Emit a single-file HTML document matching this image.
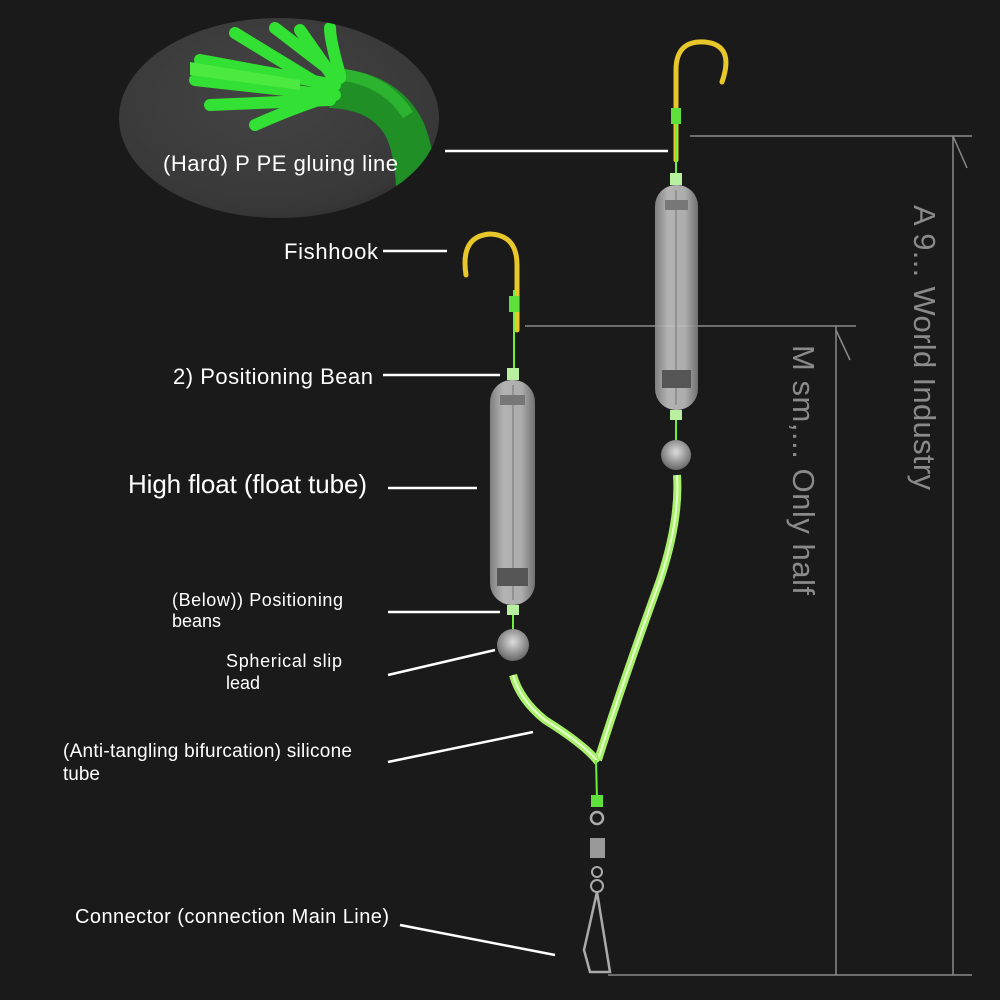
<!DOCTYPE html>
<html><head><meta charset="utf-8"><style>
html,body{margin:0;padding:0;background:#1b1a1b;}
svg{display:block;}
text{font-family:"Liberation Sans",sans-serif;}
</style></head><body>
<svg width="1000" height="1000" viewBox="0 0 1000 1000" xmlns="http://www.w3.org/2000/svg">
<defs>
<radialGradient id="eg" cx="0.45" cy="0.4" r="0.7">
<stop offset="0" stop-color="#444"/><stop offset="0.8" stop-color="#383838"/><stop offset="1" stop-color="#2a2a2a"/>
</radialGradient>
<linearGradient id="tg" x1="0" x2="1">
<stop offset="0" stop-color="#8a8a8a"/><stop offset="0.3" stop-color="#c4c4c4"/><stop offset="0.7" stop-color="#bdbdbd"/><stop offset="1" stop-color="#7a7a7a"/>
</linearGradient>
<radialGradient id="bg" cx="0.5" cy="0.4" r="0.6">
<stop offset="0" stop-color="#ddd"/><stop offset="1" stop-color="#666"/>
</radialGradient>
<clipPath id="ec"><ellipse cx="279" cy="118" rx="160" ry="100"/></clipPath>
</defs>
<rect width="1000" height="1000" fill="#1b1a1b"/>
<ellipse cx="279" cy="118" rx="160" ry="100" fill="url(#eg)"/>
<g clip-path="url(#ec)">
<path d="M330 88 Q385 90 405 130 Q420 165 415 230" stroke="#1f8f26" stroke-width="40" fill="none"/>
<path d="M335 74 Q385 78 408 115" stroke="#2cb330" stroke-width="12" fill="none"/>
<g stroke="#33e034" stroke-width="12" stroke-linecap="round" fill="none">
<path d="M335 85 L200 60"/><path d="M330 95 L195 80"/><path d="M330 100 L210 105"/>
<path d="M335 80 L300 30"/><path d="M340 78 L275 28"/><path d="M325 88 L235 33"/>
<path d="M340 75 Q330 40 330 28"/><path d="M335 95 Q300 105 255 125"/>
</g>
<path d="M190 62 L300 80 L300 90 L190 75 Z" fill="#4cea40"/>
</g>
<text x="163" y="171" font-size="22" fill="#fff" textLength="235">(Hard) P PE gluing line</text>
<line x1="445" y1="151" x2="668" y2="151" stroke="#fff" stroke-width="2.5"/>
<g stroke="#8a8a8a" stroke-width="1.5" fill="none">
<line x1="690" y1="136" x2="972" y2="136"/><line x1="953" y1="136" x2="953" y2="975"/>
<line x1="953" y1="136" x2="967" y2="168"/>
<line x1="525" y1="326" x2="856" y2="326"/><line x1="836" y1="326" x2="836" y2="975"/>
<line x1="836" y1="330" x2="850" y2="360"/>
<line x1="608" y1="975" x2="972" y2="975"/>
</g>
<text transform="translate(914,205) rotate(90)" font-size="31" fill="#8a8a8a" textLength="285">A 9... World Industry</text>
<text transform="translate(793,345) rotate(90)" font-size="31" fill="#8a8a8a" textLength="250">M sm,... Only half</text>
<path d="M676 160 L676 70 Q676 40 705 42 Q735 45 722 82" stroke="#e8c72a" stroke-width="5" fill="none" stroke-linecap="round"/>
<line x1="676" y1="110" x2="676" y2="185" stroke="#6cf03a" stroke-width="2"/>
<rect x="671" y="108" width="10" height="16" fill="#5fe03a"/>
<rect x="670" y="173" width="12" height="12" fill="#b8f0a0"/>
<rect x="655" y="185" width="43" height="225" rx="21" fill="url(#tg)" opacity="0.9"/>
<line x1="676" y1="190" x2="676" y2="405" stroke="#888" stroke-width="1.5"/>
<rect x="662" y="370" width="29" height="18" fill="#555"/><rect x="665" y="200" width="23" height="10" fill="#777"/>
<rect x="670" y="410" width="12" height="10" fill="#b8f0a0"/>
<line x1="676" y1="420" x2="676" y2="440" stroke="#6cf03a" stroke-width="2"/>
<circle cx="676" cy="455" r="15" fill="url(#bg)"/>
<path d="M677 475 Q680 520 660 580 Q620 690 598 760" stroke="#a8f06a" stroke-width="8" fill="none"/>
<path d="M677 475 Q680 520 660 580 Q620 690 598 760" stroke="#e6ffd0" stroke-width="2" fill="none"/>
<path d="M517 330 L517 265 Q517 235 490 234 Q460 236 466 275" stroke="#e8c72a" stroke-width="5" fill="none" stroke-linecap="round"/>
<line x1="514" y1="290" x2="514" y2="380" stroke="#6cf03a" stroke-width="2"/>
<rect x="509" y="296" width="10" height="16" fill="#5fe03a"/>
<rect x="507" y="368" width="12" height="12" fill="#b8f0a0"/>
<rect x="490" y="380" width="45" height="225" rx="22" fill="url(#tg)" opacity="0.9"/>
<line x1="513" y1="385" x2="513" y2="600" stroke="#888" stroke-width="1.5"/>
<rect x="497" y="568" width="31" height="18" fill="#555"/><rect x="500" y="395" width="25" height="10" fill="#777"/>
<rect x="507" y="605" width="12" height="10" fill="#b8f0a0"/>
<line x1="513" y1="615" x2="513" y2="630" stroke="#6cf03a" stroke-width="2"/>
<circle cx="513" cy="645" r="16" fill="url(#bg)"/>
<path d="M513 675 Q520 700 545 720 Q585 745 598 762" stroke="#a8f06a" stroke-width="8" fill="none"/>
<path d="M513 675 Q520 700 545 720 Q585 745 598 762" stroke="#e6ffd0" stroke-width="2" fill="none"/>
<path d="M596 760 L597 800" stroke="#6cf03a" stroke-width="2"/>
<rect x="591" y="795" width="12" height="12" fill="#5fe03a"/>
<circle cx="597" cy="818" r="6" fill="none" stroke="#aaa" stroke-width="2.5"/>
<rect x="590" y="838" width="15" height="20" fill="#999"/>
<circle cx="597" cy="872" r="5" fill="none" stroke="#aaa" stroke-width="2"/>
<circle cx="597" cy="886" r="6" fill="none" stroke="#aaa" stroke-width="2"/>
<path d="M597 892 L584 950 L590 972 L610 972 L597 892" stroke="#aaa" stroke-width="2.5" fill="none"/>
<g fill="#fff">
<text x="284" y="259" font-size="22" textLength="94">Fishhook</text>
<text x="173" y="384" font-size="22" textLength="200">2) Positioning Bean</text>
<text x="128" y="493" font-size="26" textLength="239">High float (float tube)</text>
<text x="172" y="606" font-size="18" textLength="171">(Below)) Positioning</text>
<text x="172" y="627" font-size="18">beans</text>
<text x="226" y="667" font-size="18" textLength="116">Spherical slip</text>
<text x="226" y="689" font-size="18">lead</text>
<text x="63" y="757" font-size="19" textLength="289">(Anti-tangling bifurcation) silicone</text>
<text x="63" y="780" font-size="19">tube</text>
<text x="75" y="923" font-size="20" textLength="314">Connector (connection Main Line)</text>
</g>
<g stroke="#fff" stroke-width="2.5">
<line x1="383" y1="251" x2="447" y2="251"/>
<line x1="383" y1="375" x2="500" y2="375"/>
<line x1="388" y1="488" x2="477" y2="488"/>
<line x1="388" y1="612" x2="500" y2="612"/>
<line x1="388" y1="675" x2="495" y2="650"/>
<line x1="388" y1="762" x2="533" y2="732"/>
<line x1="400" y1="925" x2="555" y2="955"/>
</g>
</svg>
</body></html>
